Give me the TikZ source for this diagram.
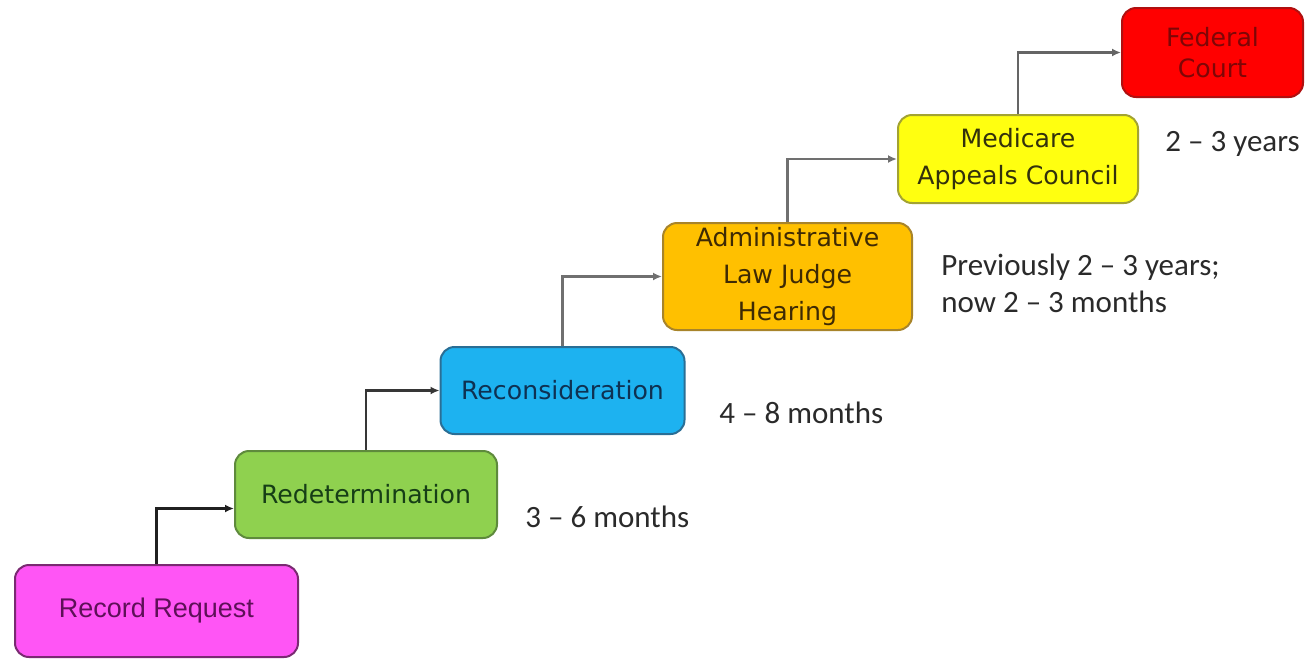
\documentclass[tikz,border=0pt]{standalone}
\usepackage{fontspec}
\setmainfont{Carlito}
\newfontfamily\stagefont{DejaVu Sans}
\newfontfamily\requestfont{Liberation Sans}
\usepackage{tikz}
\usetikzlibrary{arrows.meta, positioning}
\definecolor{PinkFill}{HTML}{FF55F5}
\definecolor{PinkEdge}{HTML}{7A2A72}
\definecolor{PinkText}{HTML}{5E1058}
\definecolor{GreenFill}{HTML}{8FD14F}
\definecolor{GreenEdge}{HTML}{5E8A3C}
\definecolor{GreenText}{HTML}{163E16}
\definecolor{BlueFill}{HTML}{1DB2F0}
\definecolor{BlueEdge}{HTML}{2A6E95}
\definecolor{BlueText}{HTML}{0E3152}
\definecolor{AmberFill}{HTML}{FFC000}
\definecolor{AmberEdge}{HTML}{A8842A}
\definecolor{AmberText}{HTML}{3E2A04}
\definecolor{LemonFill}{HTML}{FFFF10}
\definecolor{LemonEdge}{HTML}{A3A332}
\definecolor{LemonText}{HTML}{33310C}
\definecolor{RedFill}{HTML}{FF0000}
\definecolor{RedEdge}{HTML}{B01010}
\definecolor{RedText}{HTML}{7E0606}
\definecolor{LabelGray}{HTML}{2A2A2A}
\definecolor{LinkDark}{HTML}{202020}
\definecolor{LinkGray}{HTML}{707070}

\tikzset{
    stage/.style={draw, line width=1pt, rounded corners=7pt, align=center,
                  inner sep=0pt, font=\stagefont\fontsize{12.6}{18.5}\selectfont},
    flow/.style={line width=1.1pt, -{Latex[length=4.5pt, width=4pt]}},
    delay/.style={anchor=west, inner sep=0pt, align=left, text=LabelGray,
                  font=\fontsize{15.5}{18.5}\selectfont}
}

\begin{document}
\begin{tikzpicture}[x=0.5pt, y=-0.5pt]
    \useasboundingbox (0,0) rectangle (1306,659);

    % Appeal stages, lowest to highest
    \node[stage, fill=PinkFill, draw=PinkEdge, text=PinkText,
          minimum width=141.5pt, minimum height=46pt,
          font=\requestfont\fontsize{13.5}{16}\selectfont] (request) at (156.5,611) {Record Request};
    \node[stage, fill=GreenFill, draw=GreenEdge, text=GreenText,
          minimum width=131pt, minimum height=43.5pt] (redet) at (366,494.5) {Redetermination};
    \node[stage, fill=BlueFill, draw=BlueEdge, text=BlueText,
          minimum width=122pt, minimum height=43.5pt] (recon) at (562.5,390.5) {Reconsideration};
    \node[stage, fill=AmberFill, draw=AmberEdge, text=AmberText,
          minimum width=124.5pt, minimum height=53.5pt] (alj) at (787.5,276.5) {Administrative\\Law Judge\\Hearing};
    \node[stage, fill=LemonFill, draw=LemonEdge, text=LemonText,
          minimum width=120pt, minimum height=44pt] (council) at (1018,159) {Medicare\\Appeals Council};
    \node[stage, fill=RedFill, draw=RedEdge, text=RedText,
          minimum width=90.5pt, minimum height=44.5pt,
          font=\stagefont\fontsize{12.6}{15.5}\selectfont] (court) at (1212.5,52.5) {Federal\\Court};

    % Step connectors
    \draw[flow, LinkDark] (request.north) |- ([yshift=-7pt]redet.west);
    \draw[flow, LinkDark!90] (redet.north) |- (recon.west);
    \draw[flow, LinkGray] (recon.north) |- (alj.west);
    \draw[flow, LinkGray] (alj.north) |- (council.west);
    \draw[flow, LinkGray!90!black] (council.north) |- (court.west);

    % Waiting times
    \node[delay] (t1) at (525,517) {3 -- 6 months};
    \node[delay] (t2) at (719,413) {4 -- 8 months};
    \node[delay] (t3) at (941,283) {Previously 2 -- 3 years;\\now 2 -- 3 months};
    \node[delay] (t4) at (1165,144) {2 -- 3 years};
\end{tikzpicture}
\end{document}
